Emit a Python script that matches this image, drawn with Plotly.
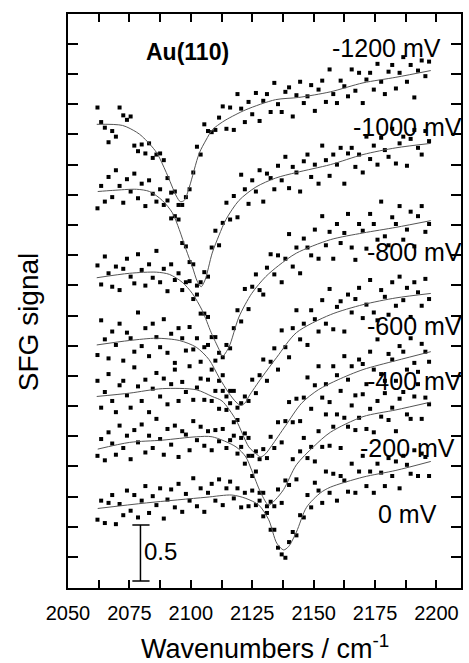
import plotly.graph_objects as go

# Wavenumber grid of the measured points (cm^-1)
X_WN = [2062.0, 2063.5, 2065.0, 2066.5, 2068.0, 2069.5, 2071.0, 2072.5, 2074.0, 2075.5,
        2077.0, 2078.5, 2080.0, 2081.5, 2083.0, 2084.5, 2086.0, 2087.5, 2089.0, 2090.5,
        2092.0, 2093.5, 2095.0, 2096.5, 2098.0, 2099.5, 2101.0, 2102.5, 2104.0, 2105.5,
        2107.0, 2108.5, 2110.0, 2111.5, 2113.0, 2114.5, 2116.0, 2117.5, 2119.0, 2120.5,
        2122.0, 2123.5, 2125.0, 2126.5, 2128.0, 2129.5, 2131.0, 2132.5, 2134.0, 2135.5,
        2137.0, 2138.5, 2140.0, 2141.5, 2143.0, 2144.5, 2146.0, 2147.5, 2149.0, 2150.5,
        2152.0, 2153.5, 2155.0, 2156.5, 2158.0, 2159.5, 2161.0, 2162.5, 2164.0, 2165.5,
        2167.0, 2168.5, 2170.0, 2171.5, 2173.0, 2174.5, 2176.0, 2177.5, 2179.0, 2180.5,
        2182.0, 2183.5, 2185.0, 2186.5, 2188.0, 2189.5, 2191.0, 2192.5, 2194.0, 2195.5,
        2197.0]

# SFG signal (offset traces)
S_M1200 = [4.29, 4.16, 4.11, 3.98, 4.08, 4.03, 4.29, 4.22, 4.18, 4.21,
           3.95, 3.90, 3.96, 3.88, 3.97, 3.84, 3.87, 3.88, 3.82, 3.66,
           3.53, 3.54, 3.42, 3.42, 3.49, 3.56, 3.71, 3.94, 3.87, 4.14,
           4.08, 4.07, 4.09, 4.20, 4.30, 4.10, 4.29, 4.09, 4.41, 4.28,
           4.16, 4.34, 4.23, 4.42, 4.17, 4.35, 4.41, 4.25, 4.51, 4.32,
           4.25, 4.43, 4.47, 4.21, 4.40, 4.52, 4.33, 4.39, 4.49, 4.26,
           4.45, 4.53, 4.34, 4.63, 4.41, 4.33, 4.53, 4.48, 4.39, 4.63,
           4.44, 4.60, 4.33, 4.54, 4.60, 4.45, 4.68, 4.52, 4.41, 4.61,
           4.67, 4.46, 4.60, 4.74, 4.52, 4.67, 4.38, 4.62, 4.71, 4.57,
           4.70]
S_M1000 = [3.39, 3.59, 3.45, 3.67, 3.49, 3.73, 3.59, 3.44, 3.65, 3.54,
           3.70, 3.48, 3.61, 3.41, 3.64, 3.52, 3.45, 3.56, 3.42, 3.46,
           3.30, 3.32, 3.29, 3.08, 3.05, 2.91, 2.89, 2.70, 2.73, 2.82,
           2.78, 3.04, 3.19, 3.06, 3.26, 3.44, 3.29, 3.50, 3.31, 3.69,
           3.56, 3.43, 3.64, 3.54, 3.73, 3.45, 3.70, 3.66, 3.56, 3.77,
           3.64, 3.85, 3.57, 3.76, 3.71, 3.54, 3.81, 3.87, 3.67, 3.78,
           3.61, 3.95, 3.82, 3.68, 3.87, 3.78, 3.93, 3.61, 3.88, 3.93,
           3.76, 3.87, 3.71, 4.03, 3.83, 3.95, 3.78, 4.02, 3.91, 3.85,
           4.10, 3.79, 3.97, 4.03, 3.77, 4.01, 4.09, 3.93, 3.87, 4.08,
           3.99]
S_M800 = [2.88, 2.71, 2.96, 2.81, 2.69, 2.87, 2.66, 2.85, 2.94, 2.78,
          2.72, 2.98, 2.84, 2.70, 2.89, 2.77, 3.01, 2.73, 2.85, 2.65,
          2.89, 2.75, 2.81, 2.66, 2.73, 2.74, 2.58, 2.62, 2.45, 2.45,
          2.42, 2.24, 2.24, 2.10, 2.06, 2.17, 2.14, 2.32, 2.48, 2.38,
          2.67, 2.49, 2.69, 2.80, 2.66, 2.62, 2.86, 2.98, 2.80, 2.97,
          2.73, 2.94, 3.16, 2.87, 3.04, 2.81, 3.12, 3.04, 2.97, 3.20,
          2.94, 3.32, 3.06, 3.18, 2.94, 3.25, 3.08, 3.17, 3.34, 3.04,
          2.93, 3.25, 3.19, 3.03, 3.34, 3.25, 3.11, 3.45, 3.14, 3.06,
          3.31, 3.25, 3.41, 3.11, 3.20, 3.36, 3.05, 3.32, 3.41, 3.18,
          3.25]
S_M600 = [2.08, 2.39, 2.22, 2.05, 2.29, 2.17, 2.36, 2.03, 2.28, 2.23,
          2.11, 2.46, 2.16, 2.32, 2.07, 2.36, 2.24, 2.15, 2.40, 2.10,
          2.27, 2.01, 2.32, 2.23, 2.12, 2.33, 2.13, 2.23, 2.02, 2.15,
          2.17, 1.95, 2.03, 1.85, 1.90, 1.71, 1.76, 1.76, 1.61, 1.65,
          1.71, 1.67, 1.86, 1.74, 1.90, 2.04, 1.85, 2.02, 2.14, 1.95,
          2.30, 2.15, 2.06, 2.32, 2.48, 2.22, 2.36, 2.17, 2.48, 2.40,
          2.29, 2.57, 2.36, 2.67, 2.31, 2.51, 2.56, 2.29, 2.62, 2.46,
          2.58, 2.68, 2.41, 2.53, 2.75, 2.46, 2.39, 2.66, 2.60, 2.44,
          2.73, 2.52, 2.78, 2.57, 2.68, 2.42, 2.73, 2.64, 2.52, 2.76,
          2.58]
S_M400 = [1.85, 1.61, 1.75, 1.91, 1.67, 1.57, 1.81, 1.85, 1.72, 1.61,
          1.97, 1.80, 1.67, 1.86, 1.57, 1.78, 1.92, 1.71, 1.87, 1.64,
          1.82, 1.95, 1.67, 1.84, 1.75, 1.98, 1.68, 1.79, 1.87, 1.68,
          1.86, 1.67, 1.76, 1.60, 1.76, 1.59, 1.65, 1.48, 1.50, 1.34,
          1.38, 1.34, 1.18, 1.22, 1.15, 1.24, 1.16, 1.35, 1.25, 1.48,
          1.30, 1.49, 1.66, 1.48, 1.69, 1.49, 1.70, 1.88, 1.60, 1.81,
          1.98, 1.70, 1.82, 1.66, 1.98, 1.90, 1.76, 2.07, 1.86, 1.98,
          1.72, 2.04, 2.00, 1.82, 2.11, 1.95, 2.22, 1.91, 1.85, 2.09,
          2.04, 1.85, 2.16, 2.11, 1.95, 2.23, 2.01, 1.93, 2.18, 2.11,
          2.02]
S_M200 = [1.18, 1.33, 1.14, 1.39, 1.29, 1.19, 1.45, 1.25, 1.36, 1.15,
          1.41, 1.30, 1.46, 1.21, 1.36, 1.25, 1.51, 1.33, 1.19, 1.42,
          1.28, 1.45, 1.17, 1.40, 1.37, 1.23, 1.49, 1.32, 1.44, 1.27,
          1.40, 1.23, 1.41, 1.31, 1.42, 1.25, 1.32, 1.36, 1.20, 1.26,
          1.11, 1.18, 1.00, 1.04, 0.85, 0.85, 0.73, 0.77, 0.73, 0.88,
          0.76, 0.96, 0.92, 1.15, 0.97, 1.22, 1.34, 1.16, 1.26, 1.13,
          1.40, 1.26, 1.55, 1.27, 1.44, 1.55, 1.25, 1.52, 1.44, 1.63,
          1.41, 1.52, 1.73, 1.42, 1.60, 1.39, 1.67, 1.53, 1.74, 1.50,
          1.61, 1.40, 1.69, 1.75, 1.55, 1.51, 1.71, 1.82, 1.51, 1.70,
          1.64]
S_0 = [0.61, 0.78, 0.58, 0.76, 0.83, 0.57, 0.75, 0.65, 0.87, 0.69,
       0.83, 0.63, 0.78, 0.91, 0.67, 0.82, 0.74, 0.89, 0.62, 0.79,
       0.88, 0.72, 0.93, 0.68, 0.84, 0.78, 0.98, 0.73, 0.89, 0.68,
       0.85, 0.93, 0.78, 0.97, 0.74, 0.89, 0.95, 0.80, 0.89, 0.72,
       0.85, 0.73, 0.87, 0.74, 0.78, 0.64, 0.67, 0.52, 0.52, 0.36,
       0.30, 0.27, 0.41, 0.50, 0.47, 0.65, 0.63, 0.83, 0.72, 0.94,
       0.87, 0.76, 1.04, 0.85, 1.02, 0.78, 1.00, 0.96, 0.86, 1.11,
       0.85, 1.04, 1.18, 0.91, 1.04, 0.85, 1.11, 1.03, 0.91, 1.16,
       1.00, 1.13, 0.89, 1.18, 1.10, 1.02, 1.23, 1.00, 1.20, 1.17,
       1.00]

# Fitted curves
FIT_X_M1200 = [2061.7, 2072.2, 2077.9, 2080.3, 2086.0, 2090.0, 2094.1, 2095.7, 2097.3, 2099.4, 2103.4,
               2106.2, 2108.7, 2111.5, 2114.3, 2122.4, 2134.5, 2143.9, 2156.8, 2170.1, 2183.5, 2197.7]
FIT_Y_M1200 = [4.14, 4.13, 4.07, 4.03, 3.89, 3.71, 3.50, 3.45, 3.46, 3.58, 3.88,
               4.00, 4.09, 4.14, 4.18, 4.27, 4.36, 4.38, 4.43, 4.51, 4.56, 4.62]
FIT_X_M1000 = [2062.1, 2068.2, 2077.9, 2083.2, 2088.4, 2092.5, 2095.3, 2098.1, 2100.6, 2102.6, 2104.2, 2105.8,
               2108.7, 2111.5, 2114.3, 2119.6, 2126.5, 2134.5, 2143.0, 2156.8, 2170.1, 2183.5, 2197.7]
FIT_Y_M1000 = [3.54, 3.55, 3.56, 3.54, 3.46, 3.35, 3.20, 3.02, 2.87, 2.74, 2.69, 2.75,
               2.99, 3.15, 3.29, 3.46, 3.58, 3.66, 3.71, 3.78, 3.87, 3.93, 3.97]
FIT_X_M800 = [2061.7, 2075.1, 2086.0, 2091.3, 2096.5, 2100.6, 2104.6, 2108.3, 2111.5, 2112.9,
              2115.5, 2119.6, 2124.8, 2130.5, 2135.8, 2143.0, 2156.8, 2170.1, 2183.5, 2197.7]
FIT_Y_M800 = [2.77, 2.81, 2.82, 2.80, 2.73, 2.63, 2.48, 2.28, 2.13, 2.07,
              2.15, 2.42, 2.63, 2.78, 2.88, 2.99, 3.11, 3.17, 3.22, 3.28]
FIT_X_M600 = [2061.7, 2075.1, 2086.0, 2095.3, 2102.2, 2107.4, 2111.5, 2115.5, 2118.4, 2120.4,
              2122.4, 2123.6, 2128.9, 2135.0, 2143.0, 2156.8, 2170.1, 2183.5, 2197.7]
FIT_Y_M600 = [2.17, 2.21, 2.23, 2.21, 2.15, 2.04, 1.88, 1.74, 1.66, 1.63,
              1.66, 1.71, 1.88, 2.06, 2.28, 2.44, 2.53, 2.59, 2.63]
FIT_X_M400 = [2061.7, 2075.1, 2088.4, 2102.2, 2108.7, 2112.7, 2118.4, 2123.6, 2126.5, 2128.5,
              2130.5, 2132.9, 2138.6, 2145.1, 2151.9, 2160.0, 2170.1, 2183.5, 2197.7]
FIT_Y_M400 = [1.71, 1.74, 1.78, 1.77, 1.71, 1.67, 1.50, 1.26, 1.20, 1.17,
              1.20, 1.27, 1.45, 1.65, 1.77, 1.86, 1.95, 2.03, 2.11]
FIT_X_M200 = [2062.1, 2075.1, 2088.4, 2102.2, 2108.7, 2118.4, 2122.4, 2124.8, 2128.5,
              2131.7, 2134.5, 2137.8, 2143.0, 2149.9, 2156.8, 2170.1, 2183.5, 2197.7]
FIT_Y_M200 = [1.24, 1.30, 1.32, 1.35, 1.35, 1.26, 1.17, 1.05, 0.85,
              0.74, 0.79, 0.88, 1.10, 1.26, 1.39, 1.53, 1.59, 1.66]
FIT_X_0 = [2062.1, 2082.0, 2106.2, 2116.7, 2122.4, 2127.7, 2131.7, 2135.0, 2137.8,
           2139.8, 2143.0, 2147.1, 2152.8, 2156.8, 2170.1, 2183.5, 2197.7]
FIT_Y_0 = [0.71, 0.76, 0.81, 0.83, 0.80, 0.74, 0.61, 0.40, 0.34,
           0.37, 0.50, 0.72, 0.85, 0.90, 0.99, 1.05, 1.13]

SERIES = [S_M1200, S_M1000, S_M800, S_M600, S_M400, S_M200, S_0]
FITS = [(FIT_X_M1200, FIT_Y_M1200), (FIT_X_M1000, FIT_Y_M1000), (FIT_X_M800, FIT_Y_M800),
        (FIT_X_M600, FIT_Y_M600), (FIT_X_M400, FIT_Y_M400), (FIT_X_M200, FIT_Y_M200),
        (FIT_X_0, FIT_Y_0)]
for s in SERIES:
    assert len(s) == len(X_WN), (len(s), len(X_WN))

# potential labels (right edge / vertical centre, in plot-area fractions)
LABELS = ["-1200 mV", "-1000 mV", "-800 mV", "-600 mV", "-400 mV", "-200 mV", "0 mV"]
LABEL_X = [0.954, 1.0076, 1.0076, 1.0076, 1.0076, 0.990, 0.944]
LABEL_Y = [0.9408, 0.8031, 0.5854, 0.4564, 0.3606, 0.2439, 0.1289]

# scale bar (0.5 units)
BAR_X = 2079.5
BAR_Y = [0.0625, 0.5625]
CAP_X = [2076.2, 2083.2]

FONT = "Arial, Liberation Sans, sans-serif"

fig = go.Figure()
for s in SERIES:
    fig.add_trace(go.Scatter(x=X_WN, y=s, mode="markers",
                             marker=dict(symbol="square", size=4, color="black",
                                         line=dict(width=0))))
for fx, fy in FITS:
    fig.add_trace(go.Scatter(x=fx, y=fy, mode="lines",
                             line=dict(color="#555555", width=1, shape="spline", smoothing=0.8)))

# scale bar
fig.add_trace(go.Scatter(x=[BAR_X, BAR_X], y=BAR_Y, mode="lines",
                         line=dict(color="black", width=1.5), cliponaxis=False))
for yy in BAR_Y:
    fig.add_trace(go.Scatter(x=CAP_X, y=[yy, yy], mode="lines",
                             line=dict(color="black", width=1.5), cliponaxis=False))

for lab, lx, ly in zip(LABELS, LABEL_X, LABEL_Y):
    fig.add_annotation(x=lx, y=ly, xref="paper", yref="paper", text=lab, showarrow=False,
                       xanchor="right", yanchor="middle",
                       font=dict(family=FONT, size=25, color="black"))

fig.add_annotation(x=2098.6, y=4.786, xref="x", yref="y", text="<b>Au(110)</b>",
                   showarrow=False, xanchor="center", yanchor="middle",
                   font=dict(family=FONT, size=23, color="black"))
fig.add_annotation(x=2080.0, y=0.33, xref="x", yref="y", text="0.5",
                   showarrow=False, xanchor="left", yanchor="middle",
                   font=dict(family=FONT, size=24, color="black"))

fig.add_annotation(x=0.5, y=-0.1028, xref="paper", yref="paper",
                   text="Wavenumbers / cm<sup>-1</sup>", showarrow=False,
                   xanchor="center", yanchor="middle",
                   font=dict(family=FONT, size=27, color="black"))
fig.add_annotation(x=-0.1013, y=0.4634, xref="paper", yref="paper",
                   text="SFG signal", showarrow=False, textangle=-90,
                   xanchor="center", yanchor="middle",
                   font=dict(family=FONT, size=28, color="black"))

fig.update_layout(
    width=469, height=663,
    margin=dict(l=68, r=6, t=14, b=75),
    plot_bgcolor="white", paper_bgcolor="white",
    showlegend=False,
    font=dict(family=FONT, color="black"),
)
fig.update_xaxes(range=[2050, 2210], tickmode="linear", tick0=2050, dtick=25,
                 ticks="inside", ticklen=8, tickwidth=1.5, tickcolor="black",
                 minor=dict(ticks="inside", dtick=12.5, tick0=2050, ticklen=8,
                            tickwidth=1.5, tickcolor="black", showgrid=False),
                 showline=True, linewidth=2, linecolor="black", mirror="ticks",
                 showgrid=False, zeroline=False, ticklabelstandoff=6,
                 tickfont=dict(family=FONT, size=20, color="black"))
fig.update_yaxes(range=[0, 5.125], tickmode="linear", tick0=0.277, dtick=0.2695,
                 ticks="inside", ticklen=10, tickwidth=1.5, tickcolor="black",
                 showticklabels=False,
                 showline=True, linewidth=2, linecolor="black", mirror="ticks",
                 showgrid=False, zeroline=False)

fig.write_html("out.html")
